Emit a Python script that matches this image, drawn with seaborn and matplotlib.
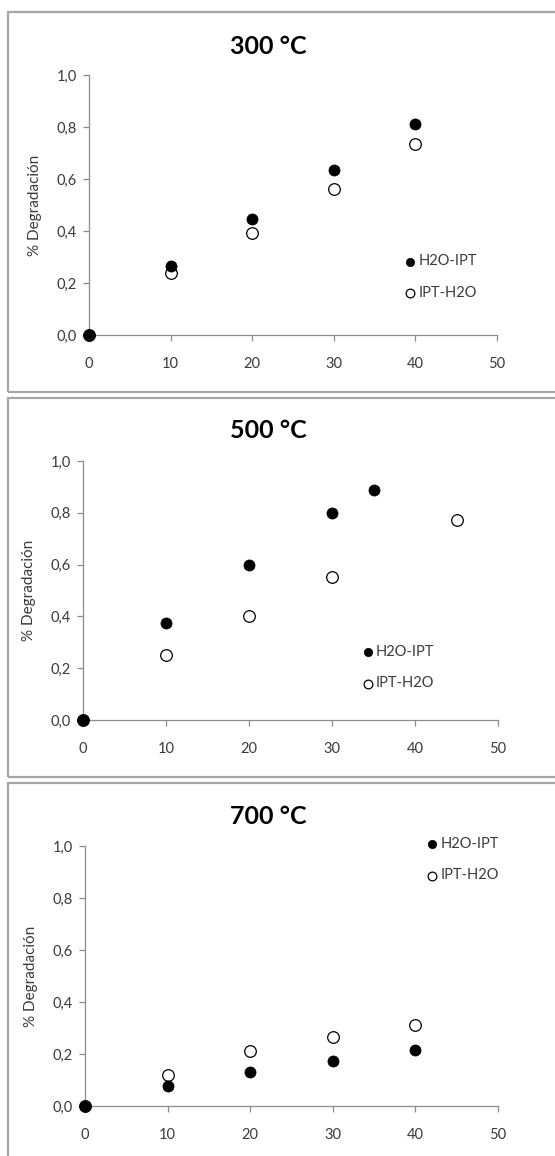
import matplotlib
matplotlib.use("Agg")
import matplotlib.pyplot as plt
import matplotlib.patches as mpatches
from matplotlib.ticker import FuncFormatter
import seaborn as sns
import pandas as pd

# ---------------- data ----------------
titles = ["300 °C", "500 °C", "700 °C"]
series_names = ["H2O-IPT", "IPT-H2O"]

x_h2o_300 = [0, 10, 20, 30, 40]
y_h2o_300 = [0.0, 0.267, 0.446, 0.633, 0.81]
x_ipt_300 = [0, 10, 20, 30, 40]
y_ipt_300 = [0.0, 0.24, 0.394, 0.563, 0.735]

x_h2o_500 = [0, 10, 20, 30, 35]
y_h2o_500 = [0.0, 0.373, 0.597, 0.80, 0.887]
x_ipt_500 = [0, 10, 20, 30, 45]
y_ipt_500 = [0.0, 0.251, 0.403, 0.552, 0.773]

x_h2o_700 = [0, 10, 20, 30, 40]
y_h2o_700 = [0.0, 0.077, 0.129, 0.173, 0.217]
x_ipt_700 = [0, 10, 20, 30, 40]
y_ipt_700 = [0.0, 0.12, 0.212, 0.265, 0.312]

x_ticks = [0, 10, 20, 30, 40, 50]
y_ticks = [0.0, 0.2, 0.4, 0.6, 0.8, 1.0]
y_label = "% Degradación"

rows = []
for t, xs1, ys1, xs2, ys2 in [
    (titles[0], x_h2o_300, y_h2o_300, x_ipt_300, y_ipt_300),
    (titles[1], x_h2o_500, y_h2o_500, x_ipt_500, y_ipt_500),
    (titles[2], x_h2o_700, y_h2o_700, x_ipt_700, y_ipt_700),
]:
    for a, b in zip(xs1, ys1):
        rows.append({"panel": t, "series": series_names[0], "x": a, "y": b})
    for a, b in zip(xs2, ys2):
        rows.append({"panel": t, "series": series_names[1], "x": a, "y": b})
df = pd.DataFrame(rows)

# ---------------- style ----------------
sns.set_theme(style="white")
plt.rcParams["font.family"] = ["Lato", "DejaVu Sans"]

W, H = 555, 1156
fig = plt.figure(figsize=(W / 100, H / 100), dpi=100)

def fx(px):
    return px / W

def fy(py):
    return 1 - py / H

# axes pixel geometry: (x0, x50, y0, y1)
geo = [(89, 497, 335, 75), (83, 498, 720, 461), (85, 498, 1106, 846)]
boxes = [(12, 392), (398, 777), (783, 1170)]
title_y = [46, 431, 817]
legend_anchor = [(0.773, 0.31), (0.672, 0.29), (0.827, 1.035)]

for (top, bot) in boxes:
    rect = mpatches.Rectangle((fx(8), fy(bot)), fx(560) - fx(8), fy(top) - fy(bot),
                              transform=fig.transFigure, fill=False,
                              edgecolor="#a6a6a6", linewidth=1.6, zorder=0)
    fig.patches.append(rect)

spine_col = "#8c8c8c"
text_col = "#3a3a3a"

for i, t in enumerate(titles):
    x0, x50, y0, y1 = geo[i]
    ax = fig.add_axes([fx(x0), fy(y0), fx(x50) - fx(x0), fy(y1) - fy(y0)])
    ax.set_facecolor("none")
    sub = df[df["panel"] == t]
    s_open = sub[sub["series"] == series_names[1]]
    s_fill = sub[sub["series"] == series_names[0]]
    sns.scatterplot(data=s_open, x="x", y="y", ax=ax, color="white",
                    edgecolor="black", linewidth=0.9, s=70, label=series_names[1],
                    clip_on=False, zorder=3)
    sns.scatterplot(data=s_fill, x="x", y="y", ax=ax, color="black",
                    edgecolor="black", linewidth=0.5, s=64, label=series_names[0],
                    clip_on=False, zorder=4)
    ax.set_xlim(0, 50)
    ax.set_ylim(0, 1)
    ax.set_xticks(x_ticks)
    ax.set_yticks(y_ticks)
    ax.yaxis.set_major_formatter(FuncFormatter(lambda v, p: f"{v:.1f}".replace(".", ",")))
    ax.xaxis.set_major_formatter(FuncFormatter(lambda v, p: f"{int(round(v))}"))
    ax.set_xlabel("")
    ax.set_ylabel(y_label, fontsize=11, color=text_col, labelpad=10)
    for sp in ["top", "right"]:
        ax.spines[sp].set_visible(False)
    for sp in ["left", "bottom"]:
        ax.spines[sp].set_color(spine_col)
        ax.spines[sp].set_linewidth(0.9)
    ax.tick_params(axis="both", which="major", direction="out", length=4, width=0.9,
                   color=spine_col, labelsize=10.5, labelcolor=text_col,
                   bottom=True, left=True)
    ax.tick_params(axis="x", pad=12)
    ax.tick_params(axis="y", pad=5)
    handles, labels = ax.get_legend_handles_labels()
    order = [labels.index(series_names[0]), labels.index(series_names[1])]
    ax.legend([handles[k] for k in order], [labels[k] for k in order],
              loc="upper left", bbox_to_anchor=legend_anchor[i], frameon=False,
              fontsize=10.5, labelspacing=1.2, handletextpad=0.15, markerscale=0.75,
              handlelength=0.8, borderpad=0, borderaxespad=0, labelcolor=text_col)
    fig.text(fx(268), fy(title_y[i]), t, ha="center", va="center",
             fontsize=18, fontweight="bold", color="black")

fig.savefig("out.png", dpi=100)
